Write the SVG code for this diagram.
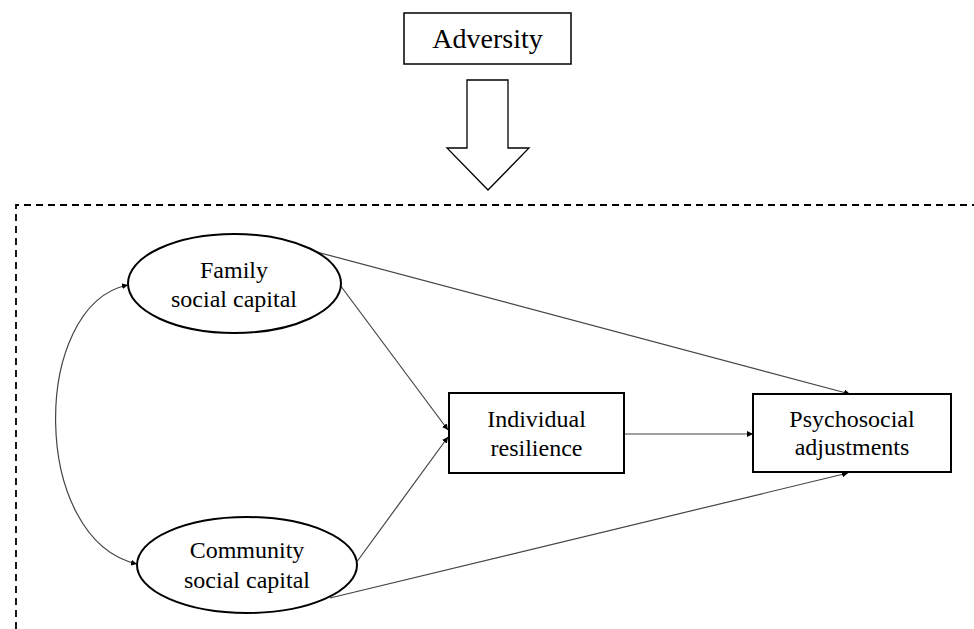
<svg xmlns="http://www.w3.org/2000/svg" width="974" height="629" viewBox="0 0 974 629">
<defs>
<marker id="ah" viewBox="0 0 10 10" refX="10" refY="5" markerWidth="6" markerHeight="6" markerUnits="userSpaceOnUse" orient="auto-start-reverse">
<path d="M0,0 L10,5 L0,10 z" fill="#000"/>
</marker>
<style>
.t{font-family:"Liberation Serif","Times New Roman",serif;font-size:24px;fill:#000;text-anchor:middle}
.n{fill:#fff;stroke:#000;stroke-width:2}
.c{fill:none;stroke:#444;stroke-width:1.2}
</style>
</defs>
<rect width="974" height="629" fill="#fff"/>
<path d="M16,629 L16,205 L974,205" fill="none" stroke="#000" stroke-width="1.8" stroke-dasharray="7,5"/>
<g id="adversity">
<rect x="404" y="13" width="167" height="51" fill="#fff" stroke="#000" stroke-width="1.5"/>
<text class="t" x="487.5" y="48" style="font-size:28px">Adversity</text>
</g>
<g id="bigarrow">
<path d="M467,80 L508,80 L508,148 L529,148 L488,190 L447,148 L467,148 Z" fill="#fff" stroke="#000" stroke-width="1.3"/>
</g>
<g id="connectors">
<path class="c" d="M128,285 C30,305 30,540 137,564" marker-start="url(#ah)" marker-end="url(#ah)"/>
<line class="c" x1="313" y1="251" x2="850" y2="394" marker-end="url(#ah)"/>
<line class="c" x1="340" y1="285" x2="448" y2="430" marker-end="url(#ah)"/>
<line class="c" x1="356" y1="563" x2="448" y2="437" marker-end="url(#ah)"/>
<line class="c" x1="330" y1="598" x2="848" y2="473" marker-end="url(#ah)"/>
<line class="c" x1="624" y1="434" x2="753" y2="434" marker-end="url(#ah)"/>
</g>
<g id="family">
<ellipse class="n" cx="234.5" cy="283.5" rx="106.5" ry="49.5"/>
<text class="t" x="234" y="278">Family</text>
<text class="t" x="234" y="307">social capital</text>
</g>
<g id="community">
<ellipse class="n" cx="247" cy="565" rx="110" ry="48"/>
<text class="t" x="247" y="558">Community</text>
<text class="t" x="247" y="588">social capital</text>
</g>
<g id="individual">
<rect class="n" x="449" y="393" width="175" height="80"/>
<text class="t" x="536.5" y="427">Individual</text>
<text class="t" x="536.5" y="456">resilience</text>
</g>
<g id="psychosocial">
<rect class="n" x="753" y="394" width="198" height="78"/>
<text class="t" x="852" y="427">Psychosocial</text>
<text class="t" x="852" y="455">adjustments</text>
</g>
</svg>
